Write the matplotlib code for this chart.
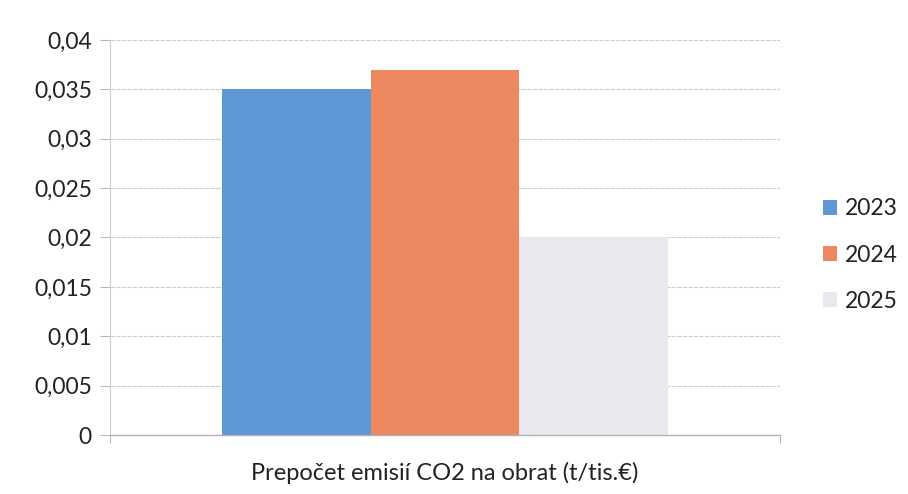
import matplotlib
matplotlib.use("Agg")
from matplotlib import pyplot as plt
from matplotlib.ticker import FuncFormatter

plt.rcParams['font.family'] = ['Lato', 'DejaVu Sans']

# data
years = ["2023", "2024", "2025"]
values = [0.035, 0.037, 0.020]
colors = ["#5F96D6", "#EE8860", "#E8E8EE"]
category = "Prepočet emisií CO2 na obrat (t/tis.€)"
yticks = [0, 0.005, 0.01, 0.015, 0.02, 0.025, 0.03, 0.035, 0.04]

fig = plt.figure(figsize=(9.08, 4.94), dpi=100)
ax = fig.add_axes([110 / 908, 1 - 435 / 494, 670 / 908, 395 / 494])

bw = 0.222
for i in range(len(years)):
    ax.bar(-bw + i * bw, values[i], width=bw, color=colors[i], label=years[i], zorder=2)

ax.set_xlim(-0.5, 0.5)
ax.set_ylim(0, 0.04)
ax.set_yticks(yticks)
ax.yaxis.set_major_formatter(FuncFormatter(lambda v, p: ("%g" % v).replace(".", ",")))
ax.set_xticks([-0.5, 0.5])
ax.set_xticklabels(["", ""])
ax.tick_params(axis='x', length=6, color="#B8B8C0", direction="out")
ax.tick_params(axis='y', length=7, color="#B8B8C0", labelsize=16.5, labelcolor="#222222", pad=6)

ax.grid(axis='y', color="#CDCDD4", linewidth=0.8, linestyle=(0, (4, 1)), zorder=0)
for s in ["top", "right"]:
    ax.spines[s].set_visible(False)
ax.spines["left"].set_color("#CDCDD4")
ax.spines["left"].set_linewidth(0.8)
ax.spines["bottom"].set_color("#B0B0B8")
ax.spines["bottom"].set_linewidth(1.0)

ax.set_xlabel(category, fontsize=17, color="#222222", labelpad=10)

leg = fig.legend(loc="center left", bbox_to_anchor=(802 / 908, 1 - 255 / 494),
                 frameon=False, fontsize=16.5, handlelength=0.62, handleheight=0.62,
                 handletextpad=0.35, labelspacing=1.1)
for t in leg.get_texts():
    t.set_color("#222222")

fig.savefig("out.png", dpi=100)
